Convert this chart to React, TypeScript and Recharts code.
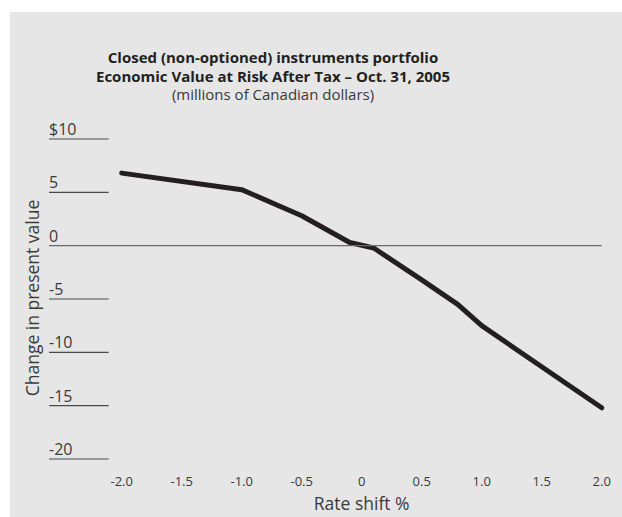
import React from "react";
import { LineChart, Line, XAxis, YAxis } from "recharts";

const rateShift = [-2.0, -1.0, -0.5, -0.1, 0.1, 0.5, 0.8, 1.0, 2.0];
const presentValueChange = [6.8, 5.25, 2.8, 0.3, -0.22, -3.2, -5.5, -7.5, -15.2];

const xTicks = [-2.0, -1.5, -1.0, -0.5, 0, 0.5, 1.0, 1.5, 2.0];
const xTickLabels = ["-2.0", "-1.5", "-1.0", "-0.5", "0", "0.5", "1.0", "1.5", "2.0"];
const yTicks = [10, 5, 0, -5, -10, -15, -20];
const yTickLabels = ["$10", "5", "0", "-5", "-10", "-15", "-20"];

const titleLines = [
  "Closed (non-optioned) instruments portfolio",
  "Economic Value at Risk After Tax \u2013 Oct. 31, 2005",
];
const subtitle = "(millions of Canadian dollars)";
const xAxisTitle = "Rate shift %";
const yAxisTitle = "Change in present value";

const data = rateShift.map((x, i) => ({ x, v: presentValueChange[i] }));

const W = 622;
const H = 517;
const FONT = "'Open Sans', 'Noto Sans', sans-serif";
const PLOT_RIGHT = 601.7;

const YTick = (props: any) => {
  const { y, payload } = props;
  const idx = yTicks.indexOf(payload.value);
  const label = idx >= 0 ? yTickLabels[idx] : String(payload.value);
  const isZero = payload.value === 0;
  return (
    <g>
      <line
        x1={49}
        x2={isZero ? PLOT_RIGHT : 108.7}
        y1={y}
        y2={y}
        stroke={isZero ? "#6a6a6a" : "#4a4a4a"}
        strokeWidth={1.2}
      />
      <text x={49} y={y - 4} fontSize={16} fill="#3a3a3a" fontFamily={FONT} textAnchor="start">
        {label}
      </text>
    </g>
  );
};

const XTick = (props: any) => {
  const { x, payload } = props;
  const idx = xTicks.indexOf(payload.value);
  const label = idx >= 0 ? xTickLabels[idx] : String(payload.value);
  return (
    <text x={x} y={485.5} fontSize={13} fill="#3a3a3a" fontFamily={FONT} textAnchor="middle">
      {label}
    </text>
  );
};

export default function App() {
  return (
    <div style={{ position: "absolute", left: 0, top: 0, width: W, height: H, background: "#ffffff" }}>
      <div style={{ position: "absolute", left: 10, top: 12, width: W - 10, height: H - 12, background: "#e6e6e6" }} />
      <div style={{ position: "absolute", left: 0, top: 0 }}>
        <LineChart width={W} height={H} data={data} margin={{ top: 139, right: W - PLOT_RIGHT, bottom: 18, left: 48.7 }}>
          <XAxis
            dataKey="x"
            type="number"
            domain={[-2, 2]}
            ticks={xTicks}
            axisLine={false}
            tickLine={false}
            height={40}
            tick={<XTick />}
            interval={0}
          />
          <YAxis
            type="number"
            domain={[-20, 10]}
            ticks={yTicks}
            axisLine={false}
            tickLine={false}
            width={73}
            tick={<YTick />}
            interval={0}
          />
          <Line
            dataKey="v"
            type="linear"
            stroke="#231f20"
            strokeWidth={5}
            strokeLinecap="round"
            strokeLinejoin="round"
            dot={false}
            activeDot={false}
            isAnimationActive={false}
          />
        </LineChart>
      </div>
      <svg width={W} height={H} style={{ position: "absolute", left: 0, top: 0, pointerEvents: "none" }}>
        <text x={273} y={63} textAnchor="middle" fontSize={15} fontWeight={700} fill="#231f20" fontFamily={FONT}>
          {titleLines[0]}
        </text>
        <text x={273} y={82} textAnchor="middle" fontSize={15} fontWeight={700} fill="#231f20" fontFamily={FONT}>
          {titleLines[1]}
        </text>
        <text x={273} y={100} textAnchor="middle" fontSize={15} fill="#3a3a3a" fontFamily={FONT}>
          {subtitle}
        </text>
        <text x={361.7} y={510} textAnchor="middle" fontSize={17.5} fill="#3a3a3a" fontFamily={FONT}>
          {xAxisTitle}
        </text>
        <text
          x={0}
          y={0}
          transform="translate(39, 298) rotate(-90)"
          textAnchor="middle"
          fontSize={17.5}
          fill="#3a3a3a"
          fontFamily={FONT}
        >
          {yAxisTitle}
        </text>
      </svg>
    </div>
  );
}
